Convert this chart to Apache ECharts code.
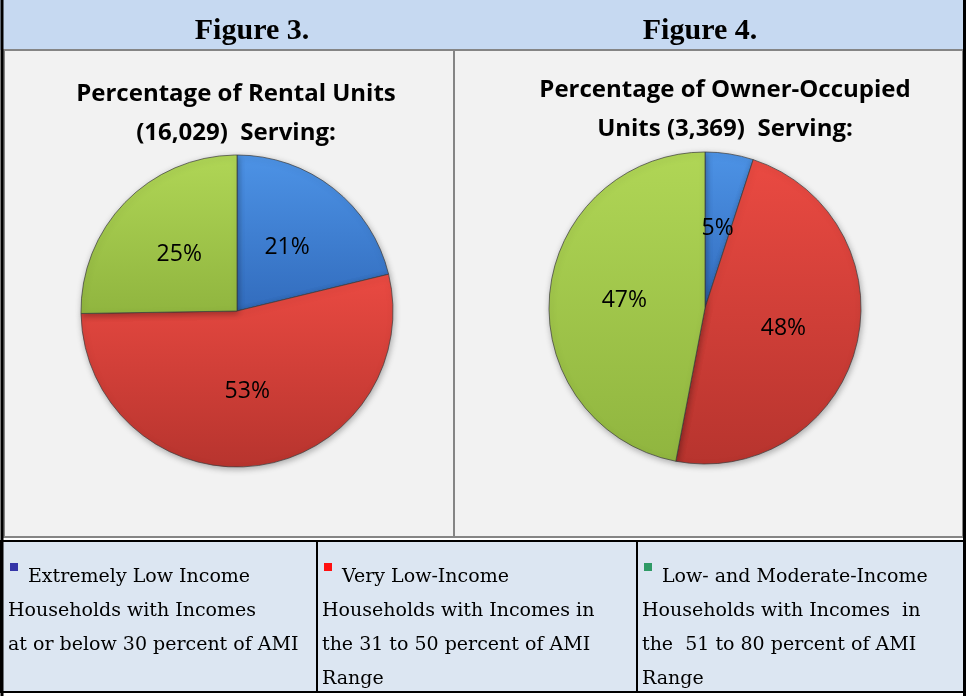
<!DOCTYPE html>
<html>
<head>
<meta charset="utf-8">
<script src="https://cdn.jsdelivr.net/npm/echarts@6/dist/echarts.min.js"></script>
<style>
  html, body { margin: 0; padding: 0; background: #ffffff; }
  #chart { width: 966px; height: 696px; }
</style>
</head>
<body>
<div id="chart"></div>
<script>
// categories shared by both pies
const categories = [
  'Extremely Low Income',
  'Very Low-Income',
  'Low- and Moderate-Income'
];
// percent of units
const rentalValues = [21, 53, 25];
const ownerValues = [5, 48, 47];

const figureTitles = ['Figure 3.', 'Figure 4.'];
const pieTitles = [
  'Percentage of Rental Units\n(16,029)  Serving:',
  'Percentage of Owner-Occupied\nUnits (3,369)  Serving:'
];

// legend cell text, one entry per line
const legendLines = [
  ['Extremely Low Income', 'Households with Incomes', 'at or below 30 percent of AMI'],
  ['Very Low-Income', 'Households with Incomes in', 'the 31 to 50 percent of AMI', 'Range'],
  ['Low- and Moderate-Income', 'Households with Incomes  in', 'the  51 to 80 percent of AMI', 'Range']
];
const legendMarkerColors = ['#3535a8', '#ff1010', '#2f9a66'];

const sliceColors = [
  ['#4d93e6', '#326cbd'],
  ['#ea4a42', '#b7342e'],
  ['#b0d656', '#90b53f']
];

const chart = echarts.init(document.getElementById('chart'), null, { renderer: 'canvas' });

function grad(c) {
  return new echarts.graphic.LinearGradient(0, 0, 0, 1, [
    { offset: 0, color: c[0] },
    { offset: 1, color: c[1] }
  ]);
}

function pieData(values) {
  return values.map((v, i) => ({
    name: categories[i],
    value: v,
    itemStyle: { color: grad(sliceColors[i]) }
  }));
}

function pieSeries(values, center) {
  return {
    type: 'pie',
    center: center,
    radius: 156,
    startAngle: 90,
    clockwise: true,
    silent: true,
    animation: false,
    data: pieData(values),
    label: {
      show: true,
      position: 'inside',
      formatter: (p) => p.value + '%',
      color: '#000',
      fontFamily: 'Open Sans',
      fontSize: 23
    },
    labelLine: { show: false },
    itemStyle: {
      borderColor: 'rgba(60,60,60,0.7)',
      borderWidth: 1,
      shadowBlur: 6,
      shadowOffsetX: 1,
      shadowOffsetY: 2,
      shadowColor: 'rgba(0,0,0,0.3)'
    }
  };
}

// table frame
const frame = [
  // header band
  { type: 'rect', shape: { x: 0, y: 0, width: 966, height: 50 }, style: { fill: '#c6d9f1' }, z: 0 },
  // chart panels
  { type: 'rect', shape: { x: 4, y: 50, width: 450, height: 487 }, style: { fill: '#f2f2f2', stroke: '#858585', lineWidth: 2 }, z: 1 },
  { type: 'rect', shape: { x: 454, y: 50, width: 509, height: 487 }, style: { fill: '#f2f2f2', stroke: '#858585', lineWidth: 2 }, z: 1 },
  // legend row
  { type: 'rect', shape: { x: 1, y: 541, width: 964, height: 151 }, style: { fill: '#dce6f2', stroke: '#000', lineWidth: 2 }, z: 1 },
  { type: 'line', shape: { x1: 317, y1: 541, x2: 317, y2: 692 }, style: { stroke: '#000', lineWidth: 2 }, z: 2 },
  { type: 'line', shape: { x1: 637, y1: 541, x2: 637, y2: 692 }, style: { stroke: '#000', lineWidth: 2 }, z: 2 },
  // outer side borders
  { type: 'line', shape: { x1: 2, y1: 0, x2: 2, y2: 696 }, style: { stroke: '#000', lineWidth: 3 }, z: 3 },
  { type: 'line', shape: { x1: 964.5, y1: 0, x2: 964.5, y2: 696 }, style: { stroke: '#000', lineWidth: 3 }, z: 3 }
];

const headerX = [252, 700];
const headerText = figureTitles.map((t, i) => ({
  type: 'text',
  x: headerX[i], y: 31,
  style: {
    text: t, fill: '#000', align: 'center', verticalAlign: 'middle',
    fontFamily: 'Liberation Serif', fontWeight: 'bold', fontSize: 30
  },
  z: 4
}));

const legendCellX = [8, 322, 642];
const legendText = [];
legendLines.forEach((lines, c) => {
  legendText.push({
    type: 'rect',
    shape: { x: legendCellX[c] + 2, y: 563, width: 8, height: 8 },
    style: { fill: legendMarkerColors[c] },
    z: 4
  });
  lines.forEach((line, k) => {
    legendText.push({
      type: 'text',
      x: legendCellX[c] + (k === 0 ? 20 : 0),
      y: 577 + k * 34,
      style: {
        text: line, fill: '#000', align: 'left', verticalAlign: 'middle',
        fontFamily: 'DejaVu Serif', fontSize: 19
      },
      z: 4
    });
  });
});

const titleStyle = { fontFamily: 'Open Sans', fontWeight: 'bold', fontSize: 24, lineHeight: 39, color: '#000' };

const option = {
  backgroundColor: '#ffffff',
  animation: false,
  title: [
    { text: pieTitles[0], left: 231, top: 70, textAlign: 'center', textStyle: titleStyle },
    { text: pieTitles[1], left: 720, top: 66, textAlign: 'center', textStyle: titleStyle }
  ],
  graphic: frame.concat(headerText, legendText),
  series: [
    pieSeries(rentalValues, [237, 311]),
    pieSeries(ownerValues, [705, 308])
  ]
};

chart.setOption(option);
</script>
</body>
</html>
